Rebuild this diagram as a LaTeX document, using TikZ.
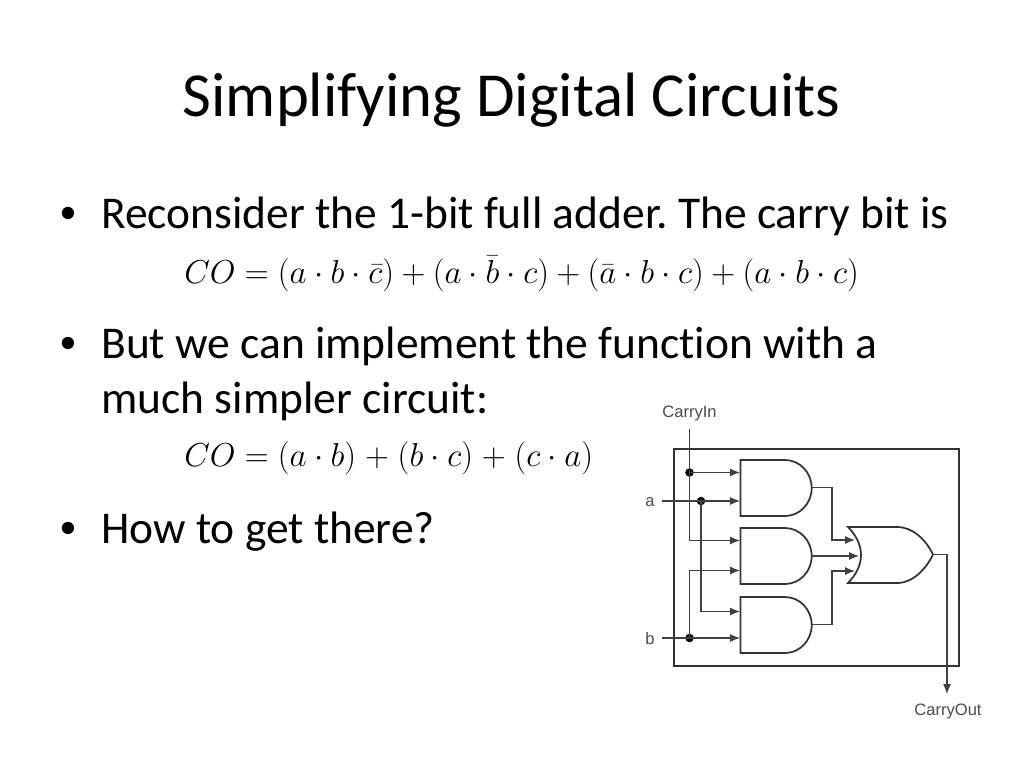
\documentclass[tikz,border=0pt]{standalone}
\usepackage{fontspec}
\setmainfont[Ligatures=NoCommon]{Carlito}
\newfontfamily\labelfont{Liberation Sans}
\usetikzlibrary{arrows.meta}
\frenchspacing
\tikzset{
  px/.style={x=0.75pt,y=-0.75pt},
  titletext/.style={anchor=base,inner sep=0pt,font=\fontsize{47}{56}\selectfont,text=black},
  bodytext/.style={anchor=base west,inner sep=0pt,font=\fontsize{34.1}{40}\selectfont,text=black},
  bullettext/.style={anchor=base,inner sep=0pt,font=\labelfont\fontsize{34}{40}\selectfont,text=black},
  eqn/.style={anchor=west,inner sep=0pt,text=black},
  pinlabel/.style={inner sep=0pt,font=\labelfont\fontsize{12.4}{14}\selectfont,text=black!70},
  gateline/.style={draw=black!80,line width=1.3pt,line join=miter},
  wire/.style={draw=black!75,line width=0.85pt},
  arrowwire/.style={wire,-{Latex[length=7.5pt,width=6pt]}},
  junction/.style={circle,fill=black,inner sep=0pt,minimum size=6.4pt},
}
\begin{document}
\begin{tikzpicture}[px]
\useasboundingbox (0,0) rectangle (1024,768);
\fill[white] (0,0) rectangle (1024,768);
\node[titletext] (title) at (511.5,116.5) {Simplifying Digital Circuits};
\node[bullettext] (b1) at (68,228) {•};
\node[bodytext] (t1) at (101,228) {Reconsider the 1-bit full adder. The carry bit is};
\node[eqn] (e1) at (184,274) {\fontsize{25.4}{30}\selectfont $CO=(a\cdot b\cdot\bar{c})+(a\cdot\bar{b}\cdot c)+(\bar{a}\cdot b\cdot c)+(a\cdot b\cdot c)$};
\node[bullettext] (b2) at (68,358) {•};
\node[bodytext] (t2) at (101,358) {But we can implement the function with a};
\node[bodytext] (t3) at (101,413) {much simpler circuit:};
\node[eqn] (e2) at (184,458) {\fontsize{25.4}{30}\selectfont $CO=(a\cdot b)\kern1.1pt+\kern1.1pt(b\cdot c)\kern1.1pt+\kern1.1pt(c\cdot a)$};
\node[bullettext] (b3) at (68,543) {•};
\node[bodytext] (t4) at (101,543) {How to get there?};

% enclosing box
\draw[draw=black!80,line width=1.3pt] (674,449) rectangle (959,666);

% AND gates
\newcommand{\andgate}[2]{%
  \draw[gateline] (740.5,#1) -- (785,#1) arc[start angle=-90,end angle=90,x radius=26.7,y radius=28] -- (740.5,#2) -- cycle;}
\andgate{460}{516}
\andgate{528}{584}
\andgate{597}{653}
% OR gate
\draw[gateline] (848,527) -- (897,527) .. controls (913,527) and (926,540) .. (933,554.5)
  .. controls (926,569) and (913,583) .. (897,583) -- (848,583)
  .. controls (856,575) and (861,565) .. (861,555) .. controls (861,545) and (856,535) .. (848,527) -- cycle;

% labels
\node[pinlabel] (cin) at (689.5,413) {CarryIn};
\node[pinlabel] (la) at (650,502) {a};
\node[pinlabel] (lb) at (650,638.5) {b};
\node[pinlabel] (cout) at (948,711) {CarryOut};

% named points
\coordinate (cinS) at (689.5,429);
\coordinate (aS) at (662,501);
\coordinate (bS) at (662,638);
\node[junction] (j1) at (689.5,472.5) {};
\node[junction] (j2) at (701,501) {};
\node[junction] (j3) at (689.5,638) {};
\coordinate (g1a) at (740,472.5);
\coordinate (g1b) at (740,501);
\coordinate (g2a) at (740,540.5);
\coordinate (g2b) at (740,570.5);
\coordinate (g3a) at (740,611.5);
\coordinate (g3b) at (740,638);
\coordinate (g1o) at (811.7,487.5);
\coordinate (g2o) at (811.7,556);
\coordinate (g3o) at (811.7,624.5);
\coordinate (o1) at (855,540);
\coordinate (o2) at (859,556);
\coordinate (o3) at (855,571);
\coordinate (ot) at (933,554.5);
\coordinate (cend) at (947,694);

% wires
\draw[wire] (cinS) -- (j1.center);
\draw[arrowwire] (j1.center) -- (g1a);
\draw[arrowwire] (j1.center) |- (g2a);
\draw[arrowwire] (aS) -- (g1b);
\draw[arrowwire] (j2.center) |- (g3a);
\draw[arrowwire] (bS) -- (g3b);
\draw[arrowwire] (j3.center) |- (g2b);
\draw[arrowwire] (g1o) -| (832,540) -- (o1);
\draw[arrowwire] (g2o) -- (o2);
\draw[arrowwire] (g3o) -| (832,571) -- (o3);
\draw[arrowwire] (ot) -| (cend);
\end{tikzpicture}
\end{document}
